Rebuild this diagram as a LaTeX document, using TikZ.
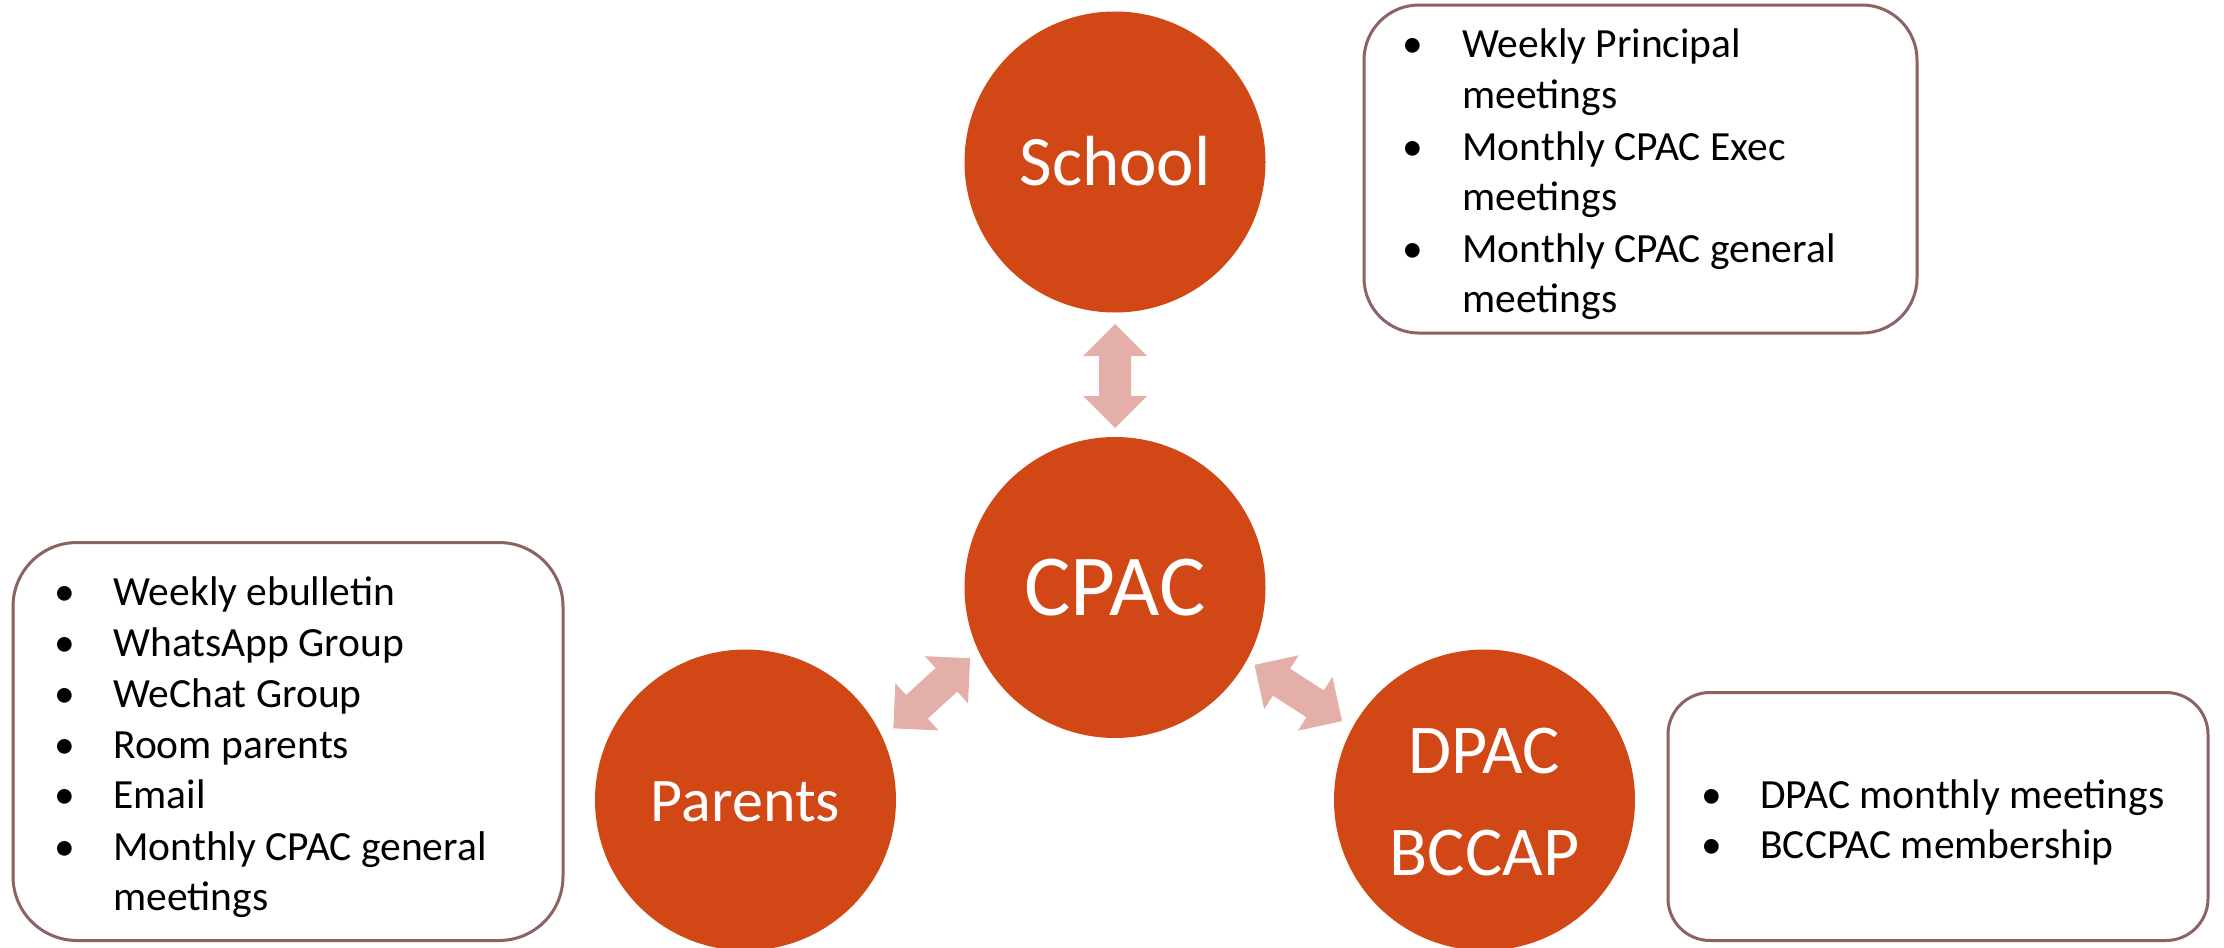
\documentclass[tikz,border=0pt]{standalone}
\usepackage{fontspec}
\setmainfont{Carlito}
\definecolor{circfill}{RGB}{210,71,22}
\definecolor{arrowfill}{RGB}{228,175,169}
\definecolor{boxline}{RGB}{139,99,97}
\tikzset{
  hub/.style={circle, fill=circfill, draw=none, minimum size=150.5pt, inner sep=0pt},
  hubtext/.style={text=white, inner sep=0pt, anchor=base},
  infobox/.style={draw=boxline, line width=1.5pt, fill=white, inner sep=0pt},
  bul/.style={inner sep=0pt, anchor=base, font=\fontsize{20.75}{25.5}\selectfont},
  listtext/.style={inner sep=0pt, anchor=base west, font=\fontsize{20.75}{25.5}\selectfont},
  dblarrow/.style={fill=arrowfill, draw=none},
}
\begin{document}
\begin{tikzpicture}[x=0.5pt,y=-0.5pt]
\useasboundingbox (0,0) rectangle (2224,948);

% circles
\node[hub] (school) at (1115,162) {};
\node[hub] (cpac) at (1115,587.5) {};
\node[hub] (parents) at (745.5,800) {};
\node[hub] (dpac) at (1484.5,800) {};

\node[hubtext, font=\fontsize{35.5}{40}\selectfont] (schooltxt) at (1115,185) {School};
\node[hubtext, font=\fontsize{43.5}{50}\selectfont] (cpactxt) at (1115,615.5) {CPAC};
\node[hubtext, font=\fontsize{31}{36}\selectfont] (parentstxt) at (745.5,821) {Parents};
\node[hubtext, font=\fontsize{35}{40}\selectfont] (dpactxt) at (1484.5,773) {DPAC};
\node[hubtext, font=\fontsize{35}{40}\selectfont] (bccaptxt) at (1484.5,875) {BCCAP};

% double arrows
\coordinate (arrS) at (1115,376);
\coordinate (arrP) at (931.7,693.3);
\coordinate (arrD) at (1298.3,693);
\foreach \c/\a in {arrS/90, arrP/42.4, arrD/-32.7}{
  \path[dblarrow, shift={(\c)}, rotate=\a]
    (52,0) -- (20,32) -- (20,16) -- (-20,16) -- (-20,32) -- (-52,0)
    -- (-20,-32) -- (-20,-16) -- (20,-16) -- (20,-32) -- cycle;
}

% info boxes
\node[infobox, rounded corners=27.5pt, minimum width=276.5pt, minimum height=164pt] (boxschool) at (1640.5,169) {};
\node[infobox, rounded corners=32pt, minimum width=275pt, minimum height=199pt] (boxparents) at (288,741.5) {};
\node[infobox, rounded corners=21pt, minimum width=270pt, minimum height=124pt] (boxdpac) at (1938,816.5) {};

% school box items
\node[bul] (sb1) at (1413,57) {•};
\node[listtext] (st1) at (1462,57) {Weekly Principal};
\node[listtext] (st2) at (1462,108) {meetings};
\node[bul] (sb2) at (1413,160) {•};
\node[listtext] (st3) at (1462,160) {Monthly CPAC Exec};
\node[listtext] (st4) at (1462,210) {meetings};
\node[bul] (sb3) at (1413,262) {•};
\node[listtext] (st5) at (1462,262) {Monthly CPAC general};
\node[listtext] (st6) at (1462,312) {meetings};

% parents box items
\node[bul] (pb1) at (65,605) {•};
\node[listtext] (pt1) at (113,605) {Weekly ebulletin};
\node[bul] (pb2) at (65,656) {•};
\node[listtext] (pt2) at (113,656) {WhatsApp Group};
\node[bul] (pb3) at (65,707) {•};
\node[listtext] (pt3) at (113,707) {WeChat Group};
\node[bul] (pb4) at (65,758) {•};
\node[listtext] (pt4) at (113,758) {Room parents};
\node[bul] (pb5) at (65,808) {•};
\node[listtext] (pt5) at (113,808) {Email};
\node[bul] (pb6) at (65,860) {•};
\node[listtext] (pt6) at (113,860) {Monthly CPAC general};
\node[listtext] (pt7) at (113,910) {meetings};

% dpac box items
\node[bul] (db1) at (1712,808) {•};
\node[listtext] (dt1) at (1760,808) {DPAC monthly meetings};
\node[bul] (db2) at (1712,858) {•};
\node[listtext] (dt2) at (1760,858) {BCCPAC membership};
\end{tikzpicture}
\end{document}
